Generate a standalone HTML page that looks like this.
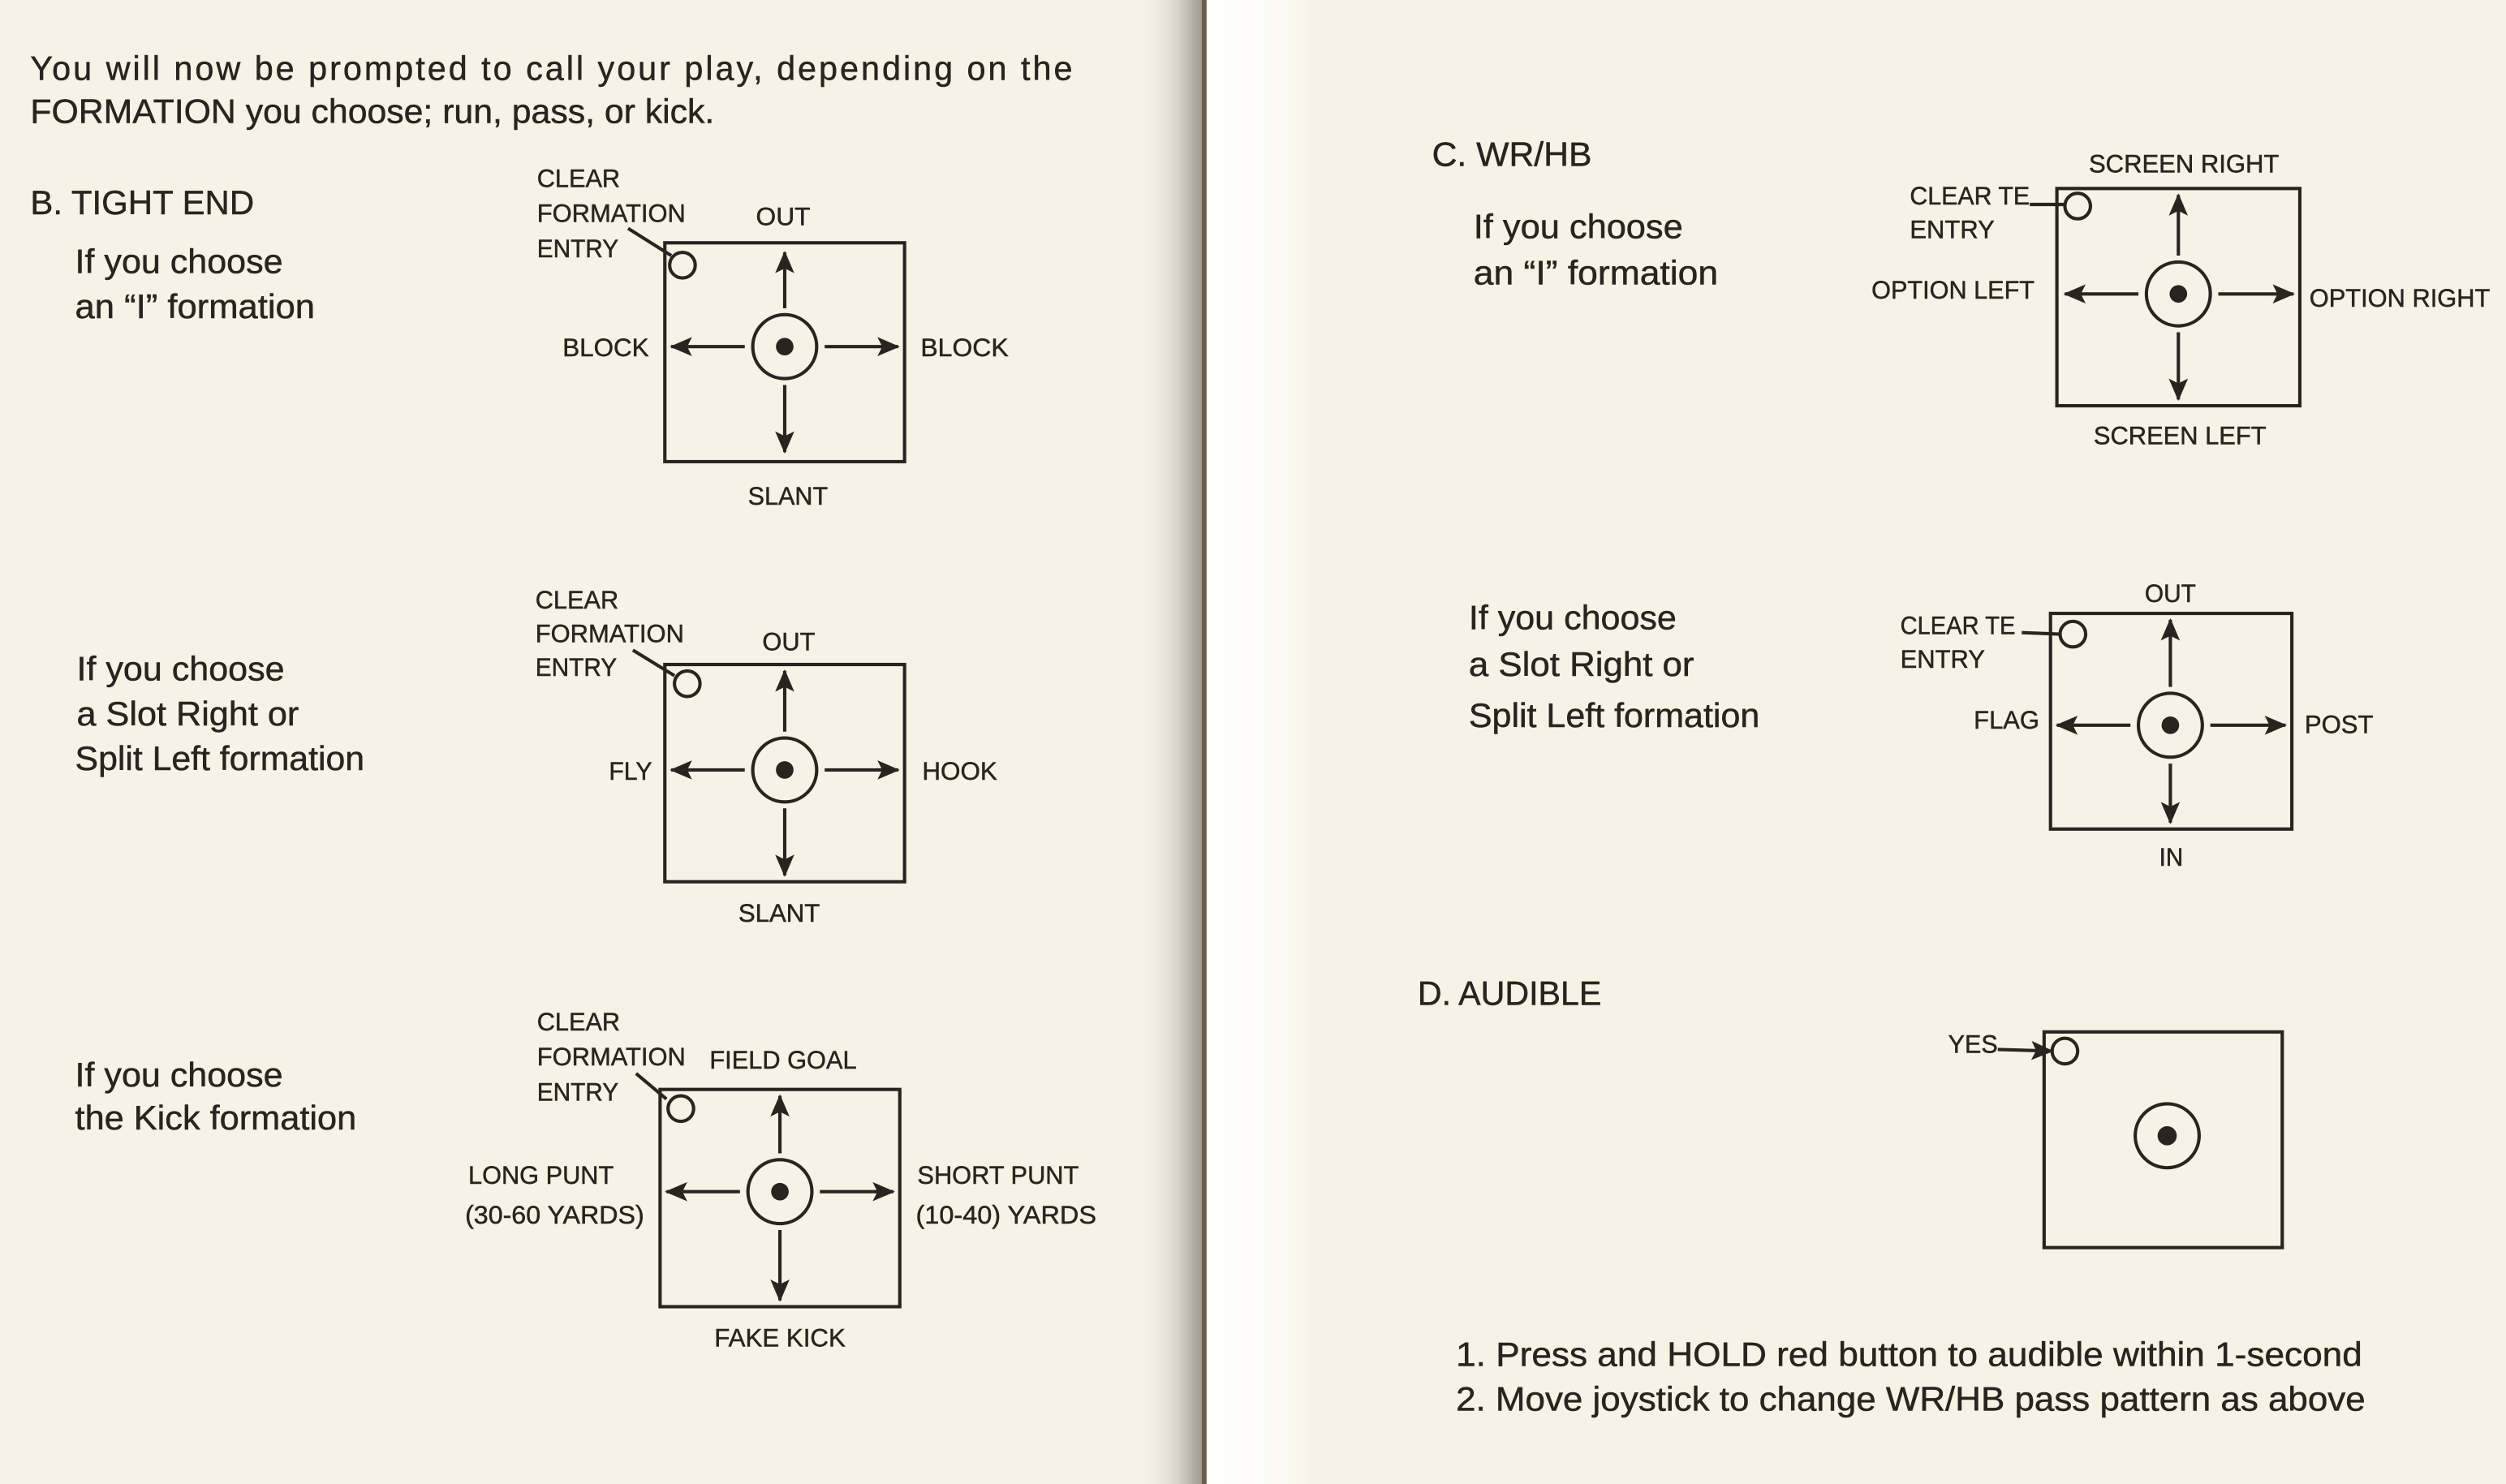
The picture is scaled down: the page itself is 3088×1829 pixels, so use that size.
<!DOCTYPE html>
<html><head><meta charset="utf-8"><style>
html,body{margin:0;padding:0;background:#f7f3e7;}
svg{display:block;}
text{font-family:"Liberation Sans Narrow","Liberation Sans",sans-serif;fill:#2a2420;stroke:#2a2420;stroke-width:0.25;}
.b{font-size:21px;}
.l{font-size:16px;}
</style></head><body>
<svg width="3088" height="1829" viewBox="0 0 1568 929" preserveAspectRatio="none" xmlns="http://www.w3.org/2000/svg">
<defs>
<linearGradient id="sh" x1="0" x2="1" y1="0" y2="0">
<stop offset="0" stop-color="#f6f1e4" stop-opacity="0"/>
<stop offset="0.6" stop-color="#d9d4c9"/>
<stop offset="1" stop-color="#9d978c"/>
</linearGradient>
<linearGradient id="wh" x1="0" x2="1" y1="0" y2="0">
<stop offset="0" stop-color="#fefefc"/>
<stop offset="0.7" stop-color="#fcfbf6"/>
<stop offset="1" stop-color="#f8f4e8"/>
</linearGradient>
<marker id="ah" markerUnits="userSpaceOnUse" markerWidth="14" markerHeight="12" refX="13" refY="6" orient="auto">
<path d="M0,0 L14,6 L0,12 L3,6 Z" fill="#2a2420"/>
</marker>
</defs>
<rect x="0" y="0" width="1568" height="929" fill="#f7f2e5"/>
<rect x="712" y="0" width="41" height="929" fill="url(#sh)"/>
<rect x="752" y="0" width="3" height="929" fill="#6e5e4c"/>
<rect x="755" y="0" width="65" height="929" fill="url(#wh)"/>

<g stroke="#2a2420" fill="none" stroke-width="2.1">
<!-- box1 -->
<rect x="416" y="152" width="150" height="137"/>
<circle cx="491" cy="217" r="20"/>
<line x1="491" y1="193" x2="491" y2="158" marker-end="url(#ah)"/>
<line x1="491" y1="241" x2="491" y2="283" marker-end="url(#ah)"/>
<line x1="466" y1="217" x2="420" y2="217" marker-end="url(#ah)"/>
<line x1="516" y1="217" x2="562" y2="217" marker-end="url(#ah)"/>
<circle cx="427" cy="166" r="8"/>
<line x1="393" y1="143" x2="420" y2="160"/>
<!-- box2 -->
<rect x="416" y="416" width="150" height="136"/>
<circle cx="491" cy="482" r="20"/>
<line x1="491" y1="458" x2="491" y2="420" marker-end="url(#ah)"/>
<line x1="491" y1="506" x2="491" y2="548" marker-end="url(#ah)"/>
<line x1="466" y1="482" x2="420" y2="482" marker-end="url(#ah)"/>
<line x1="516" y1="482" x2="562" y2="482" marker-end="url(#ah)"/>
<circle cx="430" cy="428" r="8"/>
<line x1="396" y1="407" x2="422" y2="423"/>
<!-- box3 -->
<rect x="413" y="682" width="150" height="136"/>
<circle cx="488" cy="746" r="20"/>
<line x1="488" y1="722" x2="488" y2="686" marker-end="url(#ah)"/>
<line x1="488" y1="770" x2="488" y2="814" marker-end="url(#ah)"/>
<line x1="463" y1="746" x2="417" y2="746" marker-end="url(#ah)"/>
<line x1="513" y1="746" x2="559" y2="746" marker-end="url(#ah)"/>
<circle cx="426" cy="694" r="8"/>
<line x1="398" y1="672" x2="417" y2="688"/>
<!-- box4 -->
<rect x="1287" y="118" width="152" height="136"/>
<circle cx="1363" cy="184" r="20"/>
<line x1="1363" y1="160" x2="1363" y2="122" marker-end="url(#ah)"/>
<line x1="1363" y1="208" x2="1363" y2="250" marker-end="url(#ah)"/>
<line x1="1338" y1="184" x2="1292" y2="184" marker-end="url(#ah)"/>
<line x1="1388" y1="184" x2="1435" y2="184" marker-end="url(#ah)"/>
<circle cx="1300" cy="129" r="8"/>
<line x1="1270" y1="128" x2="1292" y2="128"/>
<!-- box5 -->
<rect x="1283" y="384" width="151" height="135"/>
<circle cx="1358" cy="454" r="20"/>
<line x1="1358" y1="430" x2="1358" y2="388" marker-end="url(#ah)"/>
<line x1="1358" y1="478" x2="1358" y2="515" marker-end="url(#ah)"/>
<line x1="1333" y1="454" x2="1287" y2="454" marker-end="url(#ah)"/>
<line x1="1383" y1="454" x2="1430" y2="454" marker-end="url(#ah)"/>
<circle cx="1297" cy="397" r="8"/>
<line x1="1265" y1="396" x2="1289" y2="397"/>
<!-- box6 -->
<rect x="1279" y="646" width="149" height="135"/>
<circle cx="1356" cy="711" r="20"/>
<circle cx="1292" cy="658" r="8"/>
<line x1="1250" y1="657" x2="1284" y2="658" marker-end="url(#ah)"/>
</g>
<g fill="#2a2420">
<circle cx="491" cy="217" r="5.5"/><circle cx="491" cy="482" r="5.5"/><circle cx="488" cy="746" r="5.5"/>
<circle cx="1363" cy="184" r="5.5"/><circle cx="1358" cy="454" r="5.5"/><circle cx="1356" cy="711" r="6"/>
</g>

<!-- left page text -->
<text class="b" x="19" y="50" textLength="652" lengthAdjust="spacing">You will now be prompted to call your play, depending on the</text>
<text class="b" x="19" y="77" textLength="428" lengthAdjust="spacingAndGlyphs">FORMATION you choose; run, pass, or kick.</text>
<text class="b" x="19" y="134" textLength="140" lengthAdjust="spacingAndGlyphs">B. TIGHT END</text>
<text class="b" x="47" y="171" textLength="130" lengthAdjust="spacingAndGlyphs">If you choose</text>
<text class="b" x="47" y="199" textLength="150" lengthAdjust="spacingAndGlyphs">an “I” formation</text>

<text class="l" x="336" y="117" textLength="52" lengthAdjust="spacingAndGlyphs">CLEAR</text>
<text class="l" x="336" y="139" textLength="93" lengthAdjust="spacingAndGlyphs">FORMATION</text>
<text class="l" x="336" y="161" textLength="51" lengthAdjust="spacingAndGlyphs">ENTRY</text>
<text class="l" x="473" y="141" textLength="34" lengthAdjust="spacingAndGlyphs">OUT</text>
<text class="l" x="352" y="223" textLength="54" lengthAdjust="spacingAndGlyphs">BLOCK</text>
<text class="l" x="576" y="223" textLength="55" lengthAdjust="spacingAndGlyphs">BLOCK</text>
<text class="l" x="468" y="316" textLength="50" lengthAdjust="spacingAndGlyphs">SLANT</text>

<text class="b" x="48" y="426" textLength="130" lengthAdjust="spacingAndGlyphs">If you choose</text>
<text class="b" x="48" y="454" textLength="139" lengthAdjust="spacingAndGlyphs">a Slot Right or</text>
<text class="b" x="47" y="482" textLength="181" lengthAdjust="spacingAndGlyphs">Split Left formation</text>
<text class="l" x="335" y="381" textLength="52" lengthAdjust="spacingAndGlyphs">CLEAR</text>
<text class="l" x="335" y="402" textLength="93" lengthAdjust="spacingAndGlyphs">FORMATION</text>
<text class="l" x="335" y="423" textLength="51" lengthAdjust="spacingAndGlyphs">ENTRY</text>
<text class="l" x="477" y="407" textLength="33" lengthAdjust="spacingAndGlyphs">OUT</text>
<text class="l" x="381" y="488" textLength="27" lengthAdjust="spacingAndGlyphs">FLY</text>
<text class="l" x="577" y="488" textLength="47" lengthAdjust="spacingAndGlyphs">HOOK</text>
<text class="l" x="462" y="577" textLength="51" lengthAdjust="spacingAndGlyphs">SLANT</text>

<text class="b" x="47" y="680" textLength="130" lengthAdjust="spacingAndGlyphs">If you choose</text>
<text class="b" x="47" y="707" textLength="176" lengthAdjust="spacingAndGlyphs">the Kick formation</text>
<text class="l" x="336" y="645" textLength="52" lengthAdjust="spacingAndGlyphs">CLEAR</text>
<text class="l" x="336" y="667" textLength="93" lengthAdjust="spacingAndGlyphs">FORMATION</text>
<text class="l" x="336" y="689" textLength="51" lengthAdjust="spacingAndGlyphs">ENTRY</text>
<text class="l" x="444" y="669" textLength="92" lengthAdjust="spacingAndGlyphs">FIELD GOAL</text>
<text class="l" x="293" y="741" textLength="91" lengthAdjust="spacingAndGlyphs">LONG PUNT</text>
<text class="l" x="291" y="766" textLength="112" lengthAdjust="spacingAndGlyphs">(30-60 YARDS)</text>
<text class="l" x="574" y="741" textLength="101" lengthAdjust="spacingAndGlyphs">SHORT PUNT</text>
<text class="l" x="573" y="766" textLength="113" lengthAdjust="spacingAndGlyphs">(10-40) YARDS</text>
<text class="l" x="447" y="843" textLength="82" lengthAdjust="spacingAndGlyphs">FAKE KICK</text>

<!-- right page text -->
<text class="b" x="896" y="104" textLength="100" lengthAdjust="spacingAndGlyphs">C. WR/HB</text>
<text class="b" x="922" y="149" textLength="131" lengthAdjust="spacingAndGlyphs">If you choose</text>
<text class="b" x="922" y="178" textLength="153" lengthAdjust="spacingAndGlyphs">an “I” formation</text>
<text class="l" x="1307" y="108" textLength="119" lengthAdjust="spacingAndGlyphs">SCREEN RIGHT</text>
<text class="l" x="1195" y="128" textLength="75" lengthAdjust="spacingAndGlyphs">CLEAR TE</text>
<text class="l" x="1195" y="149" textLength="53" lengthAdjust="spacingAndGlyphs">ENTRY</text>
<text class="l" x="1171" y="187" textLength="102" lengthAdjust="spacingAndGlyphs">OPTION LEFT</text>
<text class="l" x="1445" y="192" textLength="113" lengthAdjust="spacingAndGlyphs">OPTION RIGHT</text>
<text class="l" x="1310" y="278" textLength="108" lengthAdjust="spacingAndGlyphs">SCREEN LEFT</text>

<text class="b" x="919" y="394" textLength="130" lengthAdjust="spacingAndGlyphs">If you choose</text>
<text class="b" x="919" y="423" textLength="141" lengthAdjust="spacingAndGlyphs">a Slot Right or</text>
<text class="b" x="919" y="455" textLength="182" lengthAdjust="spacingAndGlyphs">Split Left formation</text>
<text class="l" x="1342" y="377" textLength="32" lengthAdjust="spacingAndGlyphs">OUT</text>
<text class="l" x="1189" y="397" textLength="72" lengthAdjust="spacingAndGlyphs">CLEAR TE</text>
<text class="l" x="1189" y="418" textLength="53" lengthAdjust="spacingAndGlyphs">ENTRY</text>
<text class="l" x="1235" y="456" textLength="41" lengthAdjust="spacingAndGlyphs">FLAG</text>
<text class="l" x="1442" y="459" textLength="43" lengthAdjust="spacingAndGlyphs">POST</text>
<text class="l" x="1351" y="542" textLength="15" lengthAdjust="spacingAndGlyphs">IN</text>

<text class="b" x="887" y="629" textLength="115" lengthAdjust="spacingAndGlyphs">D. AUDIBLE</text>
<text class="l" x="1219" y="659" textLength="31" lengthAdjust="spacingAndGlyphs">YES</text>
<text class="b" x="911" y="855" textLength="567" lengthAdjust="spacingAndGlyphs">1.  Press and HOLD red button to audible within 1-second</text>
<text class="b" x="911" y="883" textLength="569" lengthAdjust="spacingAndGlyphs">2.  Move joystick to change WR/HB pass pattern as above</text>
</svg>
</body></html>
